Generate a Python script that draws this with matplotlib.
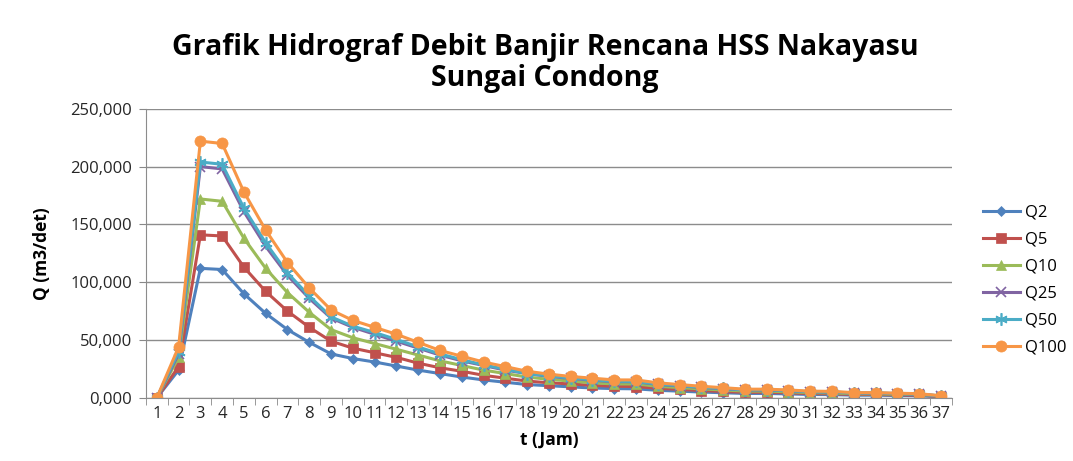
import matplotlib.pyplot as plt
from matplotlib.ticker import FuncFormatter, MultipleLocator, FixedLocator
import numpy as np

# jam ke-
t = list(range(1, 38))

# debit banjir rencana (m3/det)
q2 = [0, 24, 112, 111, 90, 73, 59, 48, 38, 34, 31, 27.5, 24, 21, 18, 15.5, 13.5,
      11.5, 10.5, 9.5, 8.5, 8, 7.8, 6.5, 5.8, 5, 4.4, 3.8, 3.8, 3.4, 2.9, 2.8,
      2.3, 2.3, 2, 1.8, 0.9]
q5 = [0, 27, 141, 140, 113, 92, 75, 61, 49, 43, 39, 35, 30, 26, 23, 19.5, 17,
      14.5, 13, 12, 10.8, 10, 9.8, 8.2, 7.3, 6.3, 5.5, 4.8, 4.8, 4.3, 3.7, 3.5,
      2.9, 2.9, 2.5, 2.3, 1.1]
q10 = [0, 35, 172, 170, 138, 112, 91, 74, 59, 52, 47, 42, 37, 32, 28, 24, 21,
       18, 16, 14.5, 13, 12, 12, 10, 8.9, 7.7, 6.8, 5.8, 5.8, 5.2, 4.5, 4.3,
       3.5, 3.5, 3.1, 2.8, 1.4]
q25 = [0, 38, 200, 198, 161, 131, 106, 86, 69, 61, 55, 49, 43, 37, 32, 28, 24,
       21, 18.5, 16.8, 15.2, 14, 13.9, 11.6, 10.3, 9, 7.9, 6.8, 6.8, 6.1, 5.2,
       5, 4.1, 4.1, 3.6, 3.2, 1.6]
q50 = [0, 40, 204, 202, 164, 134, 108, 88, 70, 62, 56.5, 50.5, 44, 38, 33,
       28.5, 24.7, 21, 19, 17.2, 15.6, 14.3, 14.2, 11.9, 10.6, 9.2, 8.1, 7, 7,
       6.2, 5.3, 5.1, 4.2, 4.2, 3.7, 3.3, 1.6]
q100 = [0, 44, 222, 220, 178, 145, 117, 95, 76, 67, 61, 55, 48, 41, 36, 31, 27,
        23, 20.5, 18.5, 17, 15.5, 15.5, 13, 11.5, 10, 8.8, 7.5, 7.5, 6.8, 5.8,
        5.6, 4.5, 4.5, 4, 3.6, 1.8]

labels = ['Q2', 'Q5', 'Q10', 'Q25', 'Q50', 'Q100']

plt.rcParams['font.family'] = ['Open Sans', 'DejaVu Sans']

fig = plt.figure(figsize=(10.73, 4.61), dpi=100)
ax = fig.add_axes([0.136, 0.137, 0.751, 0.627])

asterisk = (6, 2, 0)
styles = [
    ('#4F81BD', 'D', 5, 'full'),
    ('#C0504D', 's', 7, 'full'),
    ('#9BBB59', '^', 7, 'full'),
    ('#8064A2', 'x', 7, 'full'),
    ('#4BACC6', asterisk, 9, 'full'),
    ('#F79646', 'o', 8, 'full'),
]
for data, lab, (c, m, ms, fs) in zip([q2, q5, q10, q25, q50, q100], labels, styles):
    ax.plot(t, data, color=c, marker=m, markersize=ms, lw=2.2, label=lab,
            markeredgewidth=1.2 if m in ('x', asterisk) else 0.5, markeredgecolor=c)

ax.set_xlim(0.5, 37.5)
ax.set_ylim(0, 250)
ax.yaxis.set_major_locator(MultipleLocator(50))
ax.yaxis.set_major_formatter(FuncFormatter(lambda v, p: f'{v:.3f}'.replace('.', ',')))
ax.set_xticks(t)
ax.tick_params(axis='x', which='major', length=0, pad=6, labelsize=12)
ax.xaxis.set_minor_locator(FixedLocator(np.arange(0.5, 38, 1)))
ax.tick_params(axis='x', which='minor', length=5, color='#888888', direction='out')
ax.tick_params(axis='y', length=5, color='#888888', labelsize=12, pad=5)
for lbl in ax.get_xticklabels() + ax.get_yticklabels():
    lbl.set_color('#262626')

ax.grid(axis='y', color='#8c8c8c', lw=1)
ax.set_axisbelow(True)
for s in ['top', 'right']:
    ax.spines[s].set_visible(False)
ax.spines['left'].set_color('#8c8c8c')
ax.spines['bottom'].set_color('#8c8c8c')

ax.set_ylabel('Q (m3/det)', fontsize=12.5, fontweight='bold', labelpad=14)
ax.set_xlabel('t (Jam)', fontsize=12.5, fontweight='bold', labelpad=6)

fig.suptitle('Grafik Hidrograf Debit Banjir Rencana HSS Nakayasu\nSungai Condong',
             x=0.508, y=0.928, fontsize=20.5, fontweight='bold', linespacing=1.1)

ax.legend(loc='center left', bbox_to_anchor=(1.02, 0.408), frameon=False,
          fontsize=12, handlelength=2.2, labelspacing=0.66, handletextpad=0.3)

fig.savefig('out.png', dpi=100)
